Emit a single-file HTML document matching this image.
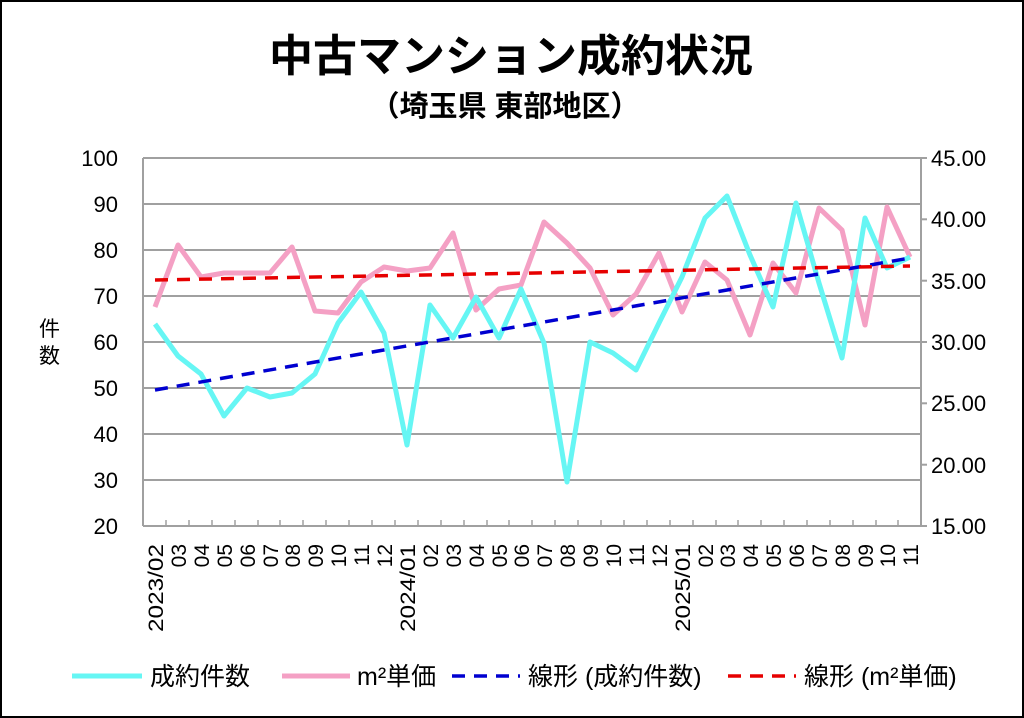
<!DOCTYPE html>
<html><head><meta charset="utf-8"><style>
body{margin:0;background:#fff}
svg{display:block}
text{font-family:"Liberation Sans","Noto Sans CJK JP",sans-serif;fill:#000}
</style></head><body>
<svg width="1024" height="718" viewBox="0 0 1024 718" xmlns="http://www.w3.org/2000/svg">
<rect x="1" y="1" width="1022" height="716" fill="#fff" stroke="#000" stroke-width="2"/>
<text x="511" y="71" font-size="44" font-weight="bold" text-anchor="middle">中古マンション成約状況</text>
<text x="505" y="116" font-size="29" font-weight="bold" text-anchor="middle">（埼玉県 東部地区）</text>
<g stroke="#a0a0a0" stroke-width="2">
<line x1="143" y1="158" x2="921" y2="158"/><line x1="143" y1="204" x2="921" y2="204"/><line x1="143" y1="250" x2="921" y2="250"/><line x1="143" y1="296" x2="921" y2="296"/><line x1="143" y1="342" x2="921" y2="342"/><line x1="143" y1="388" x2="921" y2="388"/><line x1="143" y1="434" x2="921" y2="434"/><line x1="143" y1="480" x2="921" y2="480"/><line x1="143" y1="526" x2="921" y2="526"/>
<line x1="143" y1="158" x2="143" y2="526"/><line x1="921" y1="158" x2="921" y2="526"/>
<line x1="921" y1="219.3" x2="927" y2="219.3"/><line x1="921" y1="280.7" x2="927" y2="280.7"/><line x1="921" y1="342" x2="927" y2="342"/><line x1="921" y1="403.3" x2="927" y2="403.3"/><line x1="921" y1="464.7" x2="927" y2="464.7"/><line x1="921" y1="158" x2="927" y2="158"/><line x1="921" y1="526" x2="927" y2="526"/>
</g>
<g stroke="#a0a0a0" stroke-width="1.5">
<path d="M166 520V526M189 520V526M212 520V526M235 520V526M258 520V526M280 520V526M303 520V526M326 520V526M349 520V526M372 520V526M395 520V526M418 520V526M441 520V526M464 520V526M487 520V526M509 520V526M532 520V526M555 520V526M578 520V526M601 520V526M624 520V526M647 520V526M670 520V526M693 520V526M716 520V526M738 520V526M761 520V526M784 520V526M807 520V526M830 520V526M853 520V526M876 520V526M898 520V526"/>
</g>
<g font-size="22" text-anchor="end">
<text x="118" y="166">100</text><text x="118" y="212">90</text><text x="118" y="258">80</text><text x="118" y="304">70</text><text x="118" y="350">60</text><text x="118" y="396">50</text><text x="118" y="442">40</text><text x="118" y="488">30</text><text x="118" y="534">20</text>
</g>
<g font-size="22">
<text x="931" y="166">45.00</text><text x="931" y="227">40.00</text><text x="931" y="289">35.00</text><text x="931" y="350">30.00</text><text x="931" y="411">25.00</text><text x="931" y="473">20.00</text><text x="931" y="534">15.00</text>
</g>
<text x="39" y="336" font-size="21">件</text><text x="39" y="363" font-size="21">数</text>
<polyline fill="none" stroke="#f4a0c4" stroke-width="5" stroke-linejoin="round" points="155,307 178,245 201,277 224,273 247,273 270,273 292,247 315,311 338,313 361,282 384,267 407,271 430,268 453,233 476,310 499,289 521,285 544,222 567,243 590,268 613,315 636,294 659,253 682,312 705,262 727,280 750,335 773,263 796,293 819,208 842,230 865,325 887,207 910,257"/>
<polyline fill="none" stroke="#66f6f4" stroke-width="5" stroke-linejoin="round" points="155,324 178,356 201,374 224,416 247,388 270,397 292,393 315,374 338,323 361,292 384,333 407,445 430,305 453,338 476,297 499,338 521,289 544,343 567,482 590,342 613,353 636,370 659,323 682,277 705,218 727,196 750,255 773,307 796,203 819,283 842,358 865,218 887,268 910,257"/>
<line x1="155" y1="390" x2="910" y2="258" stroke="#0000d0" stroke-width="3.5" stroke-dasharray="13,9"/>
<line x1="155" y1="280" x2="910" y2="266" stroke="#e60000" stroke-width="3.5" stroke-dasharray="13,9"/>
<g font-size="21" text-anchor="end">
<text transform="translate(163,544) rotate(-90)" textLength="88" lengthAdjust="spacingAndGlyphs">2023/02</text>
<text transform="translate(186,544) rotate(-90)">03</text>
<text transform="translate(209,544) rotate(-90)">04</text>
<text transform="translate(232,544) rotate(-90)">05</text>
<text transform="translate(255,544) rotate(-90)">06</text>
<text transform="translate(278,544) rotate(-90)">07</text>
<text transform="translate(300,544) rotate(-90)">08</text>
<text transform="translate(323,544) rotate(-90)">09</text>
<text transform="translate(346,544) rotate(-90)">10</text>
<text transform="translate(369,544) rotate(-90)">11</text>
<text transform="translate(392,544) rotate(-90)">12</text>
<text transform="translate(415,544) rotate(-90)" textLength="88" lengthAdjust="spacingAndGlyphs">2024/01</text>
<text transform="translate(438,544) rotate(-90)">02</text>
<text transform="translate(461,544) rotate(-90)">03</text>
<text transform="translate(484,544) rotate(-90)">04</text>
<text transform="translate(507,544) rotate(-90)">05</text>
<text transform="translate(529,544) rotate(-90)">06</text>
<text transform="translate(552,544) rotate(-90)">07</text>
<text transform="translate(575,544) rotate(-90)">08</text>
<text transform="translate(598,544) rotate(-90)">09</text>
<text transform="translate(621,544) rotate(-90)">10</text>
<text transform="translate(644,544) rotate(-90)">11</text>
<text transform="translate(667,544) rotate(-90)">12</text>
<text transform="translate(690,544) rotate(-90)" textLength="88" lengthAdjust="spacingAndGlyphs">2025/01</text>
<text transform="translate(713,544) rotate(-90)">02</text>
<text transform="translate(735,544) rotate(-90)">03</text>
<text transform="translate(758,544) rotate(-90)">04</text>
<text transform="translate(781,544) rotate(-90)">05</text>
<text transform="translate(804,544) rotate(-90)">06</text>
<text transform="translate(827,544) rotate(-90)">07</text>
<text transform="translate(850,544) rotate(-90)">08</text>
<text transform="translate(873,544) rotate(-90)">09</text>
<text transform="translate(895,544) rotate(-90)">10</text>
<text transform="translate(918,544) rotate(-90)">11</text>
</g>
<line x1="72" y1="676" x2="142" y2="676" stroke="#66f6f4" stroke-width="5"/>
<text x="150" y="685" font-size="25">成約件数</text>
<line x1="282" y1="676" x2="350" y2="676" stroke="#f4a0c4" stroke-width="5"/>
<text x="357" y="685" font-size="25">m²単価</text>
<line x1="452" y1="676" x2="520" y2="676" stroke="#0000d0" stroke-width="3.5" stroke-dasharray="13,9"/>
<text x="528" y="685" font-size="25">線形 (成約件数)</text>
<line x1="728" y1="676" x2="796" y2="676" stroke="#e60000" stroke-width="3.5" stroke-dasharray="13,9"/>
<text x="804" y="685" font-size="25">線形 (m²単価)</text>
</svg>
</body></html>
